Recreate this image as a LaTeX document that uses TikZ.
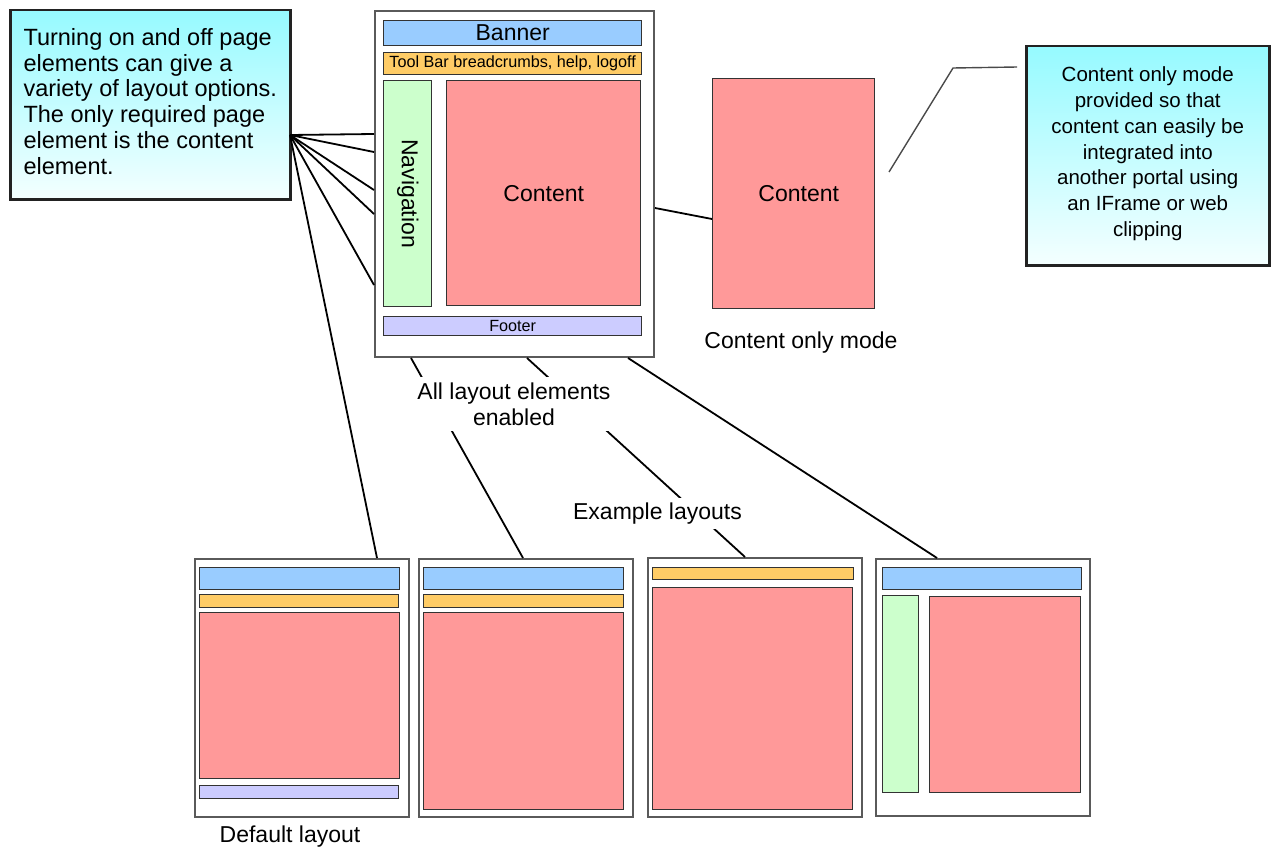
\documentclass[tikz,border=0pt]{standalone}
\usepackage{fontspec}
\setmainfont{Liberation Sans}
\usetikzlibrary{calc}

\definecolor{frameGray}{HTML}{5A5A5A}
\definecolor{paneEdge}{HTML}{333333}
\definecolor{bannerBlue}{HTML}{99CCFF}
\definecolor{toolOrange}{HTML}{FFCC66}
\definecolor{navGreen}{HTML}{CCFFCC}
\definecolor{contentRed}{HTML}{FF9999}
\definecolor{footerLilac}{HTML}{CCCCFF}
\definecolor{calloutTop}{HTML}{96FAFF}
\definecolor{calloutBottom}{HTML}{F4FFFF}
\definecolor{calloutEdge}{HTML}{222222}
\definecolor{pointerGray}{HTML}{4A4A4A}

\newcommand\bigfont{\fontsize{23}{25.7}\selectfont}
\newcommand\leadfont{\fontsize{23.5}{25.8}\selectfont}
\newcommand\notefont{\fontsize{20.5}{25.8}\selectfont}
\newcommand\smallfont{\fontsize{16.2}{18}\selectfont}
% extra depth under the last line lifts a centred text block a little
\newcommand\liftby[1]{\rule[-#1]{0pt}{0pt}}

\begin{document}
\begin{tikzpicture}[x=1pt,y=-1pt,
  corners/.style n args={4}{anchor=north west, at={(#1,#2)},
    minimum width={#3-#1}, minimum height={#4-#2}},
  frame/.style={draw=frameGray, line width=2pt, fill=white, inner sep=0pt},
  pane/.style={draw=paneEdge, line width=1.4pt, inner sep=0pt},
  bannerpane/.style={pane, fill=bannerBlue},
  toolpane/.style={pane, fill=toolOrange},
  navpane/.style={pane, fill=navGreen},
  contentpane/.style={pane, fill=contentRed},
  footerpane/.style={pane, fill=footerLilac},
  callout/.style={draw=calloutEdge, line width=2.5pt, top color=calloutTop,
    bottom color=calloutBottom, inner sep=0pt},
  link/.style={draw=black, line width=1.8pt},
  pointer/.style={draw=pointerGray, line width=1.4pt},
  caption/.style={font=\bigfont, inner sep=0pt, align=center},
  maskcaption/.style={caption, fill=white}]

\useasboundingbox (0,0) rectangle (1273,848);

% ---- full layout with every element switched on ----
\node[frame, corners={374}{10}{653}{356}] (main) {};
\node[bannerpane, corners={383}{20}{641}{45}, font=\bigfont] (banner) {Banner};
\node[toolpane, corners={383}{52}{641}{74}, font=\smallfont] (toolbar) {Tool Bar breadcrumbs, help, logoff};
\node[navpane, corners={383}{80}{431}{306}, font=\bigfont] (nav) {\rotatebox{-90}{Navigation}};
\node[contentpane, corners={446}{80}{640}{305}, font=\bigfont] (content) {Content};
\node[footerpane, corners={383}{316}{641}{335}, font=\smallfont] (footer) {Footer};

% ---- content only mode ----
\node[contentpane, corners={712}{78}{874}{308}, font=\bigfont] (solo) {\hspace*{10pt}Content};
\node[caption, anchor=base] (sololabel) at (801,348) {Content only mode};

% ---- callouts ----
\node[callout, corners={9}{9}{289}{198}, font=\leadfont, align=left] (note)
  {Turning on and off page\\elements can give a\\variety of layout options.\\The only required page\\element is the content\\element.\liftby{7pt}};
\node[callout, corners={1025}{45}{1268}{264}, font=\notefont, align=center] (info)
  {Content only mode\\provided so that\\content can easily be\\integrated into\\another portal using\\an IFrame or web\\clipping\liftby{8pt}};

% ---- example layouts ----
\node[frame, corners={194}{558}{408}{816}] (lay1) {};
\node[bannerpane, corners={199}{567}{399}{589}] (lay1banner) {};
\node[toolpane, corners={199}{594}{398}{607}] (lay1tool) {};
\node[contentpane, corners={199}{612}{399}{778}] (lay1content) {};
\node[footerpane, corners={199}{785}{398}{798}] (lay1footer) {};
\node[caption, anchor=base] (lay1label) at (290,842) {Default layout};

\node[frame, corners={418}{558}{632}{816}] (lay2) {};
\node[bannerpane, corners={423}{567}{623}{589}] (lay2banner) {};
\node[toolpane, corners={423}{594}{623}{607}] (lay2tool) {};
\node[contentpane, corners={423}{612}{623}{809}] (lay2content) {};

\node[frame, corners={647}{557}{861}{816}] (lay3) {};
\node[toolpane, corners={652}{567}{853}{579}] (lay3tool) {};
\node[contentpane, corners={652}{587}{852}{809}] (lay3content) {};

\node[frame, corners={875}{558}{1089}{815}] (lay4) {};
\node[bannerpane, corners={882}{567}{1081}{589}] (lay4banner) {};
\node[navpane, corners={882}{595}{918}{792}] (lay4nav) {};
\node[contentpane, corners={929}{596}{1080}{792}] (lay4content) {};

% ---- connectors ----
\coordinate (hub) at (290,135);
\draw[link] (hub) -- (main.west |- 0,134);
\draw[link] (hub) -- (main.west |- 0,152);
\draw[link] (hub) -- (main.west |- 0,190);
\draw[link] (hub) -- (main.west |- 0,214);
\draw[link] (hub) -- (main.west |- 0,285);
\draw[link] (hub) -- (377,0 |- lay1.north);

\draw[link] (main.south -| 411,0) -- (lay2.north -| 523,0);
\draw[link] (main.south -| 527,0) -- (lay3.north -| 745,0);
\draw[link] (main.south -| 628,0) -- (lay4.north -| 937,0);

\draw[link] (main.east |- 0,208) -- (solo.west |- 0,219);

\coordinate (infotip) at (889,172);
\draw[pointer] (infotip) -- (953,68) -- ($(info.west |- 0,67)+(-8,0)$);

% ---- captions laid over the connectors ----
\node[maskcaption, minimum width=210, minimum height=54] (alllabel) at (514,404)
  {All layout elements\\enabled};
\node[maskcaption, minimum width=176, minimum height=31] (examplelabel) at (657.5,513.5)
  {Example layouts};

\end{tikzpicture}
\end{document}
